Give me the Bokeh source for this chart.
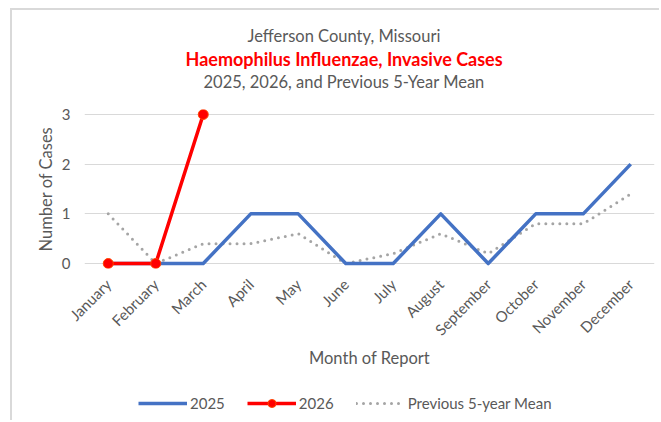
from bokeh.plotting import figure
from bokeh.models import Range1d, FactorRange, Title, Legend, LegendItem
from bokeh.layouts import column
from bokeh.embed import file_html
from bokeh.resources import INLINE
import math

months = ["January", "February", "March", "April", "May", "June", "July",
          "August", "September", "October", "November", "December"]
cases_2025 = [0, 0, 0, 1, 1, 0, 0, 1, 0, 1, 1, 2]
months_2026 = ["January", "February", "March"]
cases_2026 = [0, 0, 3]
mean_5yr = [1.0, 0.0, 0.4, 0.4, 0.6, 0.0, 0.2, 0.6, 0.2, 0.8, 0.8, 1.4]
title_lines = ["Jefferson County, Missouri",
               "Haemophilus Influenzae, Invasive Cases",
               "2025, 2026, and Previous 5-Year Mean"]
legend_labels = ["2025", "2026", "Previous 5-year Mean"]
y_ticks = [0, 1, 2, 3]

FONT = "Lato"
TXT = "#595959"
C25, C26, CM = "#4472C4", "#FF0000", "#A5A5A5"

p = figure(x_range=FactorRange(*months), y_range=Range1d(-0.1, 3.1),
           width=647, height=370, output_backend="svg", toolbar_location=None,
           min_border_left=72, min_border_right=5, min_border_top=99,
           min_border_bottom=112)
p.outline_line_color = None
p.xgrid.grid_line_color = None
p.ygrid.grid_line_color = "#d9d9d9"
p.ygrid.grid_line_width = 1
p.yaxis.ticker = y_ticks

for ax in (p.xaxis[0], p.yaxis[0]):
    ax.axis_line_color = None
    ax.major_tick_line_color = None
    ax.minor_tick_line_color = None
    ax.major_tick_out = 0
    ax.major_tick_in = 0
    ax.major_label_text_color = TXT
    ax.major_label_text_font = FONT
    ax.axis_label_text_color = TXT
    ax.axis_label_text_font = FONT
    ax.axis_label_text_font_size = "16.5px"
    ax.axis_label_text_font_style = "normal"

p.xaxis.axis_label = "Month of Report"
p.xaxis.major_label_orientation = math.pi / 4
p.xaxis.major_label_text_font_size = "15px"
p.xaxis.major_label_standoff = 13
p.xaxis.axis_label_standoff = 0
p.yaxis.axis_label = "Number of Cases"
p.yaxis.major_label_standoff = 14
p.yaxis.axis_label_standoff = 3
p.yaxis.major_label_text_font_size = "15px"

p.line(months, mean_5yr, line_color=CM, line_width=3,
       line_dash="0 7", line_cap="round")
p.line(months, cases_2025, line_color=C25, line_width=3.5, line_join="round")
p.line(months_2026, cases_2026, line_color=C26, line_width=3.5, line_join="round")
p.scatter(months_2026, cases_2026, size=10, fill_color=C26,
          line_color="#FF4500", line_width=1)

# spacer between the frame and the title block
p.add_layout(Title(text=" ", text_font_size="12px", standoff=2), "above")
# three title lines, left-aligned with offsets so they centre at the same x
colors = [TXT, "#FF0000", TXT]
styles = ["normal", "bold", "normal"]
sizes = ["16.5px", "18px", "16.5px"]
offsets = [163, 101, 119]
for i in (2, 1, 0):
    p.add_layout(Title(text=title_lines[i], align="left", offset=offsets[i],
                       text_color=colors[i], text_font=FONT,
                       text_font_size=sizes[i], text_font_style=styles[i],
                       standoff=0), "above")

# legend strip below the chart (same series, hidden, only their legend shown)
lg = figure(width=647, height=40, output_backend="svg", toolbar_location=None,
            x_axis_type=None, y_axis_type=None, min_border=0,
            x_range=FactorRange(*months), y_range=Range1d(-0.1, 3.1))
lg.outline_line_color = None
lg.grid.grid_line_color = None
g25 = lg.line(months, cases_2025, line_color=C25, line_width=3.5, visible=False)
g26 = lg.line(months_2026, cases_2026, line_color=C26, line_width=3.5, visible=False)
g26m = lg.scatter(months_2026, cases_2026, size=10, fill_color=C26,
                  line_color="#FF4500", line_width=1, visible=False)
gm = lg.line(months, mean_5yr, line_color=CM, line_width=3, line_dash="0 7",
             line_cap="round", visible=False)
legend = Legend(items=[LegendItem(label=legend_labels[0], renderers=[g25]),
                       LegendItem(label=legend_labels[1], renderers=[g26, g26m]),
                       LegendItem(label=legend_labels[2], renderers=[gm])],
                orientation="horizontal", location=(54, 7),
                label_text_font=FONT, label_text_font_size="15px",
                label_text_color=TXT, glyph_width=49, glyph_height=20,
                spacing=22, label_standoff=3, padding=0, margin=0,
                border_line_color=None, background_fill_alpha=0,
                inactive_fill_alpha=0)
lg.add_layout(legend, "center")

layout = column(p, lg, spacing=0)
layout.styles = {"margin": "8px 0 0 10px",
                 "border-left": "2px solid #d9d9d9", "border-top": "2px solid #d9d9d9"}

open("out.html", "w").write(file_html(layout, INLINE))
